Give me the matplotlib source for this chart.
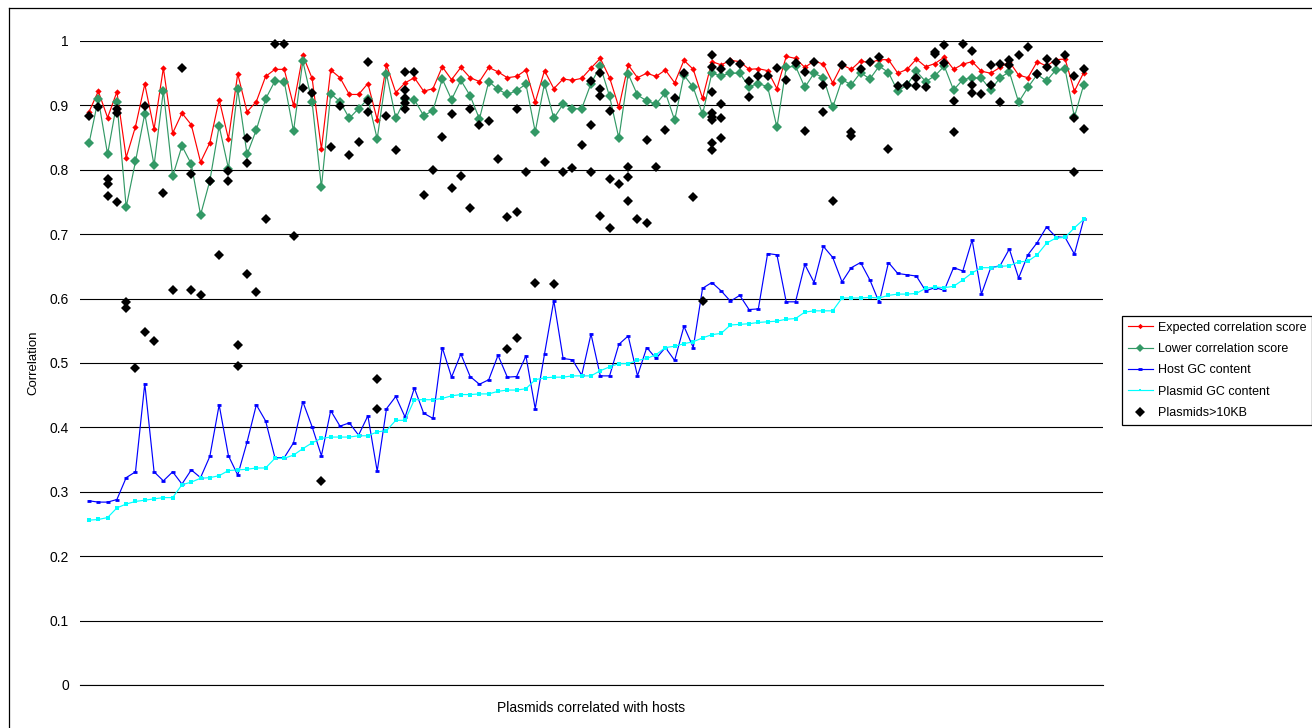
import numpy as np
import matplotlib
matplotlib.use("Agg")
import matplotlib.pyplot as plt
from matplotlib.lines import Line2D

plt.rcParams['font.family'] = ['Liberation Sans', 'DejaVu Sans']

# ---------------- data ----------------
expected = [0.890, 0.922, 0.881, 0.921, 0.819, 0.867, 0.933, 0.863, 0.958, 0.857, 0.888, 0.870, 0.812, 0.842, 0.909, 0.848, 0.949, 0.890,
            0.906, 0.945, 0.956, 0.956, 0.900, 0.978, 0.942, 0.832, 0.955, 0.943, 0.917, 0.917, 0.934, 0.878, 0.963, 0.920, 0.935, 0.943,
            0.922, 0.926, 0.960, 0.940, 0.959, 0.943, 0.937, 0.959, 0.952, 0.943, 0.945, 0.955, 0.905, 0.954, 0.926, 0.941, 0.939, 0.942, 0.958,
            0.973, 0.943, 0.897, 0.963, 0.943, 0.950, 0.945, 0.955, 0.935, 0.970, 0.956, 0.911, 0.968, 0.963, 0.970, 0.968, 0.956, 0.957,
            0.954, 0.926, 0.976, 0.973, 0.959, 0.969, 0.964, 0.935, 0.963, 0.956, 0.969, 0.966, 0.971, 0.971, 0.950, 0.956, 0.972, 0.960,
            0.965, 0.975, 0.956, 0.964, 0.968, 0.953, 0.950, 0.959, 0.968, 0.947, 0.943, 0.968, 0.961, 0.971, 0.972, 0.922, 0.951]

lower = [0.841, 0.910, 0.824, 0.905, 0.742, 0.813, 0.887, 0.807, 0.923, 0.790, 0.837, 0.809, 0.730, 0.783, 0.868, 0.802, 0.925, 0.824,
         0.862, 0.910, 0.938, 0.937, 0.860, 0.969, 0.905, 0.773, 0.918, 0.906, 0.880, 0.895, 0.910, 0.848, 0.949, 0.880, 0.910, 0.909,
         0.884, 0.892, 0.941, 0.909, 0.939, 0.915, 0.879, 0.937, 0.925, 0.917, 0.923, 0.933, 0.859, 0.934, 0.880, 0.902, 0.895, 0.895, 0.934,
         0.961, 0.914, 0.849, 0.949, 0.916, 0.907, 0.902, 0.920, 0.877, 0.947, 0.928, 0.886, 0.950, 0.946, 0.950, 0.950, 0.929, 0.934,
         0.929, 0.866, 0.959, 0.961, 0.928, 0.950, 0.943, 0.897, 0.940, 0.932, 0.951, 0.941, 0.961, 0.951, 0.922, 0.932, 0.953, 0.937,
         0.946, 0.961, 0.924, 0.940, 0.943, 0.942, 0.924, 0.943, 0.952, 0.905, 0.928, 0.948, 0.938, 0.955, 0.956, 0.882, 0.932]

host_gc = [0.286, 0.284, 0.284, 0.288, 0.322, 0.331, 0.468, 0.331, 0.317, 0.331, 0.312, 0.334, 0.322, 0.355, 0.435, 0.356, 0.326, 0.377,
           0.435, 0.410, 0.353, 0.353, 0.376, 0.440, 0.401, 0.356, 0.426, 0.402, 0.407, 0.388, 0.418, 0.332, 0.429, 0.448, 0.416, 0.461,
           0.422, 0.414, 0.524, 0.478, 0.514, 0.479, 0.467, 0.474, 0.512, 0.478, 0.479, 0.511, 0.429, 0.514, 0.597, 0.507, 0.505, 0.481, 0.545,
           0.480, 0.480, 0.529, 0.542, 0.480, 0.524, 0.507, 0.524, 0.504, 0.557, 0.524, 0.616, 0.625, 0.612, 0.596, 0.605, 0.583, 0.584,
           0.670, 0.668, 0.595, 0.595, 0.653, 0.625, 0.681, 0.664, 0.626, 0.648, 0.656, 0.629, 0.594, 0.656, 0.639, 0.637, 0.635, 0.612,
           0.617, 0.613, 0.648, 0.643, 0.691, 0.607, 0.648, 0.651, 0.677, 0.632, 0.668, 0.687, 0.711, 0.696, 0.695, 0.669, 0.723]

plasmid_gc = [0.256, 0.257, 0.260, 0.275, 0.281, 0.285, 0.287, 0.289, 0.291, 0.291, 0.311, 0.315, 0.321, 0.322, 0.325, 0.333, 0.334, 0.335,
              0.337, 0.337, 0.352, 0.352, 0.357, 0.367, 0.376, 0.383, 0.385, 0.385, 0.385, 0.387, 0.387, 0.393, 0.395, 0.411, 0.411, 0.443,
              0.443, 0.443, 0.445, 0.449, 0.451, 0.451, 0.452, 0.452, 0.456, 0.458, 0.458, 0.460, 0.474, 0.477, 0.478, 0.478, 0.480, 0.480, 0.480,
              0.488, 0.494, 0.499, 0.499, 0.504, 0.507, 0.513, 0.524, 0.526, 0.530, 0.533, 0.539, 0.544, 0.546, 0.559, 0.560, 0.561, 0.563,
              0.564, 0.565, 0.568, 0.569, 0.579, 0.581, 0.581, 0.581, 0.601, 0.601, 0.601, 0.602, 0.601, 0.605, 0.607, 0.607, 0.608, 0.616,
              0.618, 0.617, 0.619, 0.629, 0.640, 0.648, 0.648, 0.650, 0.651, 0.657, 0.658, 0.668, 0.686, 0.694, 0.695, 0.710, 0.723]

# Plasmids > 10KB: category index and correlation value
big_idx = [0, 1, 2, 2, 2, 3, 3, 3, 4, 4, 5, 6, 6, 7, 8, 9, 10, 11, 11, 12, 13, 14, 15, 15, 16, 16, 17, 17, 17,
           18, 19, 20, 21, 22, 23, 24, 25, 26, 27, 28, 29, 30, 30, 30, 31, 31, 32, 33, 34, 34, 34, 34, 34, 35,
           36, 37, 38, 39, 39, 40, 41, 41, 42, 43, 44, 45, 45, 46, 46, 46, 47, 48, 49, 50, 51, 52, 53, 54, 54, 54,
           55, 55, 55, 55, 56, 56, 56, 57, 58, 58, 58, 59, 60, 60, 61, 62, 63, 64, 65, 66,
           67, 67, 67, 67, 67, 67, 67, 67, 68, 68, 68, 68, 69, 70, 71, 71, 72,
           73, 74, 75, 76, 77, 77, 78, 79, 79, 80, 81, 82, 82, 83, 84, 85, 86, 87, 88, 89, 89, 90,
           91, 91, 92, 92, 93, 93, 94, 95, 95, 95, 96, 97, 97, 98, 98, 99, 99, 100, 101, 102, 103, 103,
           104, 105, 106, 106, 106, 107, 107]
big_val = [0.884, 0.897, 0.785, 0.778, 0.760, 0.894, 0.888, 0.750, 0.594, 0.586, 0.492, 0.899, 0.548, 0.534, 0.764,
           0.613, 0.958, 0.793, 0.613, 0.605, 0.783, 0.667, 0.798, 0.782, 0.528, 0.496, 0.850, 0.810, 0.638,
           0.611, 0.724, 0.995, 0.995, 0.697, 0.927, 0.919, 0.317, 0.835, 0.899, 0.823, 0.843, 0.968, 0.907, 0.889,
           0.475, 0.428, 0.884, 0.830, 0.952, 0.924, 0.911, 0.903, 0.895, 0.952,
           0.761, 0.799, 0.851, 0.886, 0.772, 0.791, 0.895, 0.740, 0.870, 0.876, 0.817, 0.726, 0.522, 0.894, 0.734, 0.539,
           0.797, 0.624, 0.812, 0.622, 0.797, 0.803, 0.839, 0.938, 0.870, 0.797,
           0.950, 0.926, 0.915, 0.728, 0.891, 0.786, 0.709, 0.778, 0.804, 0.789, 0.751, 0.724, 0.847, 0.718, 0.804,
           0.862, 0.911, 0.950, 0.758, 0.596,
           0.978, 0.960, 0.921, 0.888, 0.882, 0.878, 0.841, 0.831, 0.957, 0.902, 0.881, 0.849, 0.967, 0.965, 0.938, 0.913, 0.945,
           0.945, 0.958, 0.940, 0.966, 0.952, 0.860, 0.968, 0.932, 0.889, 0.752, 0.962, 0.858, 0.852, 0.957, 0.968, 0.975,
           0.832, 0.930, 0.932, 0.942, 0.930, 0.929,
           0.983, 0.980, 0.994, 0.966, 0.907, 0.859, 0.995, 0.984, 0.932, 0.919, 0.918, 0.963, 0.932, 0.964, 0.905,
           0.970, 0.963, 0.978, 0.991, 0.948, 0.972, 0.960, 0.968, 0.979, 0.946, 0.881, 0.797, 0.957, 0.864]

y_ticks = [0, 0.1, 0.2, 0.3, 0.4, 0.5, 0.6, 0.7, 0.8, 0.9, 1]
y_tick_labels = ['0', '0.1', '0.2', '0.3', '0.4', '0.5', '0.6', '0.7', '0.8', '0.9', '1']

# ---------------- figure ----------------
W, H = 1312, 728
fig = plt.figure(figsize=(W / 100, H / 100), dpi=100)
ax = fig.add_axes([80 / W, (H - 685) / H, 1023 / W, 644 / H])

x = np.arange(len(expected))
step = 9.296
ax.set_xlim(-(89 - 80) / step, (len(expected) - 1) + (1103 - 1083.7) / step)
ax.set_ylim(0, 1)

lw = 0.85
ax.plot(x, expected, color='#FF0000', lw=lw, marker='D', ms=3.2, mew=0,
        label='Expected correlation score', zorder=3)
ax.plot(x, lower, color='#339966', lw=lw, marker='D', ms=4.6, mew=0,
        label='Lower correlation score', zorder=3)
ax.plot(x, host_gc, color='#0000FF', lw=lw, marker='_', ms=3.5, mew=2.0,
        label='Host GC content', zorder=3)
ax.plot(x, plasmid_gc, color='#00FFFF', lw=lw, marker='s', ms=2.2, mew=0,
        label='Plasmid GC content', zorder=3)
ax.plot(big_idx, big_val, linestyle='none', color='black', marker='D', ms=5.6, mew=0,
        label='Plasmids>10KB', zorder=4, clip_on=False)

ax.set_yticks(y_ticks)
ax.set_yticklabels(y_tick_labels)
ax.set_xticks([])
ax.tick_params(axis='y', length=0, pad=8, labelsize=10, colors='black')
ax.grid(axis='y', color='black', lw=0.8)
ax.axhline(0, color='black', lw=0.8, clip_on=False, zorder=0.5)
ax.set_axisbelow(True)
for s in ax.spines.values():
    s.set_visible(False)

ax.set_ylabel('Correlation', fontsize=9.5, va='center')
ax.yaxis.set_label_coords((33 - 80) / 1023, 0.5)
ax.set_xlabel('Plasmids correlated with hosts', fontsize=10, va='center')
ax.xaxis.set_label_coords(0.5, -(708 - 685) / 644)

leg = ax.legend(loc='upper left', bbox_to_anchor=(1122 / W, 1 - 316 / H),
                bbox_transform=fig.transFigure, borderaxespad=0, fontsize=9,
                frameon=True, fancybox=False, shadow=False, framealpha=1,
                edgecolor='black', handlelength=2.0, handletextpad=0.4,
                labelspacing=0.75, borderpad=0.45, markerscale=0.85)
leg.get_frame().set_linewidth(0.9)

# outer chart border (top and left edges visible)
fig.add_artist(Line2D([8.5 / W, 8.5 / W], [0, 1 - 7.5 / H], transform=fig.transFigure,
                      color='black', lw=0.9))
fig.add_artist(Line2D([8.5 / W, 1], [1 - 7.5 / H, 1 - 7.5 / H], transform=fig.transFigure,
                      color='black', lw=0.9))

fig.savefig('out.png', dpi=100)
